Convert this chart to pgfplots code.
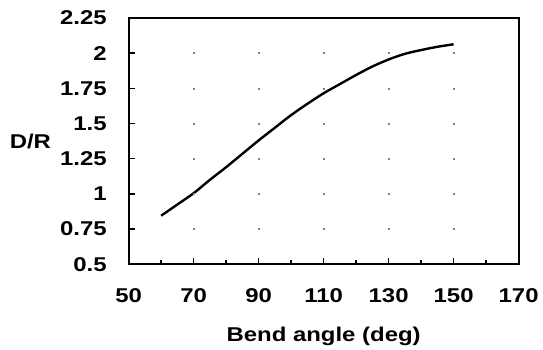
\documentclass[border=0pt]{standalone}
\usepackage{fontspec}
\setmainfont{Liberation Sans}[FakeStretch=1.2]
\usepackage{pgfplots}
\pgfplotsset{compat=1.18}
\begin{document}
\begin{tikzpicture}
\begin{axis}[
  name=ax,
  scale only axis,
  width=293.25pt, height=185.25pt,
  xmin=50, xmax=170, ymin=0.5, ymax=2.25,
  xtick={50,70,...,170},
  ytick={0.5,0.75,...,2.25},
  yticklabels={0.5,0.75,1,1.25,1.5,1.75,2,2.25},
  minor x tick num=1,
  tick align=inside,
  xtick pos=bottom, ytick pos=left,
  major tick length=5pt, minor tick length=3.3pt,
  every tick/.style={black, line width=1pt},
  axis line style={black, line width=1.6pt},
  /pgf/number format/assume math mode=true,
  tick label style={font=\fontsize{15}{18}\selectfont\bfseries},
  yticklabel style={xshift=-13pt},
  xticklabel style={yshift=-15pt},
  every axis x label/.style={at={(axis description cs:0.5,0)},anchor=base,yshift=-57.75pt,font=\fontsize{15}{18}\selectfont\bfseries},
  every axis y label/.style={at={(axis description cs:-0.252,0.5)},anchor=center,font=\fontsize{15}{18}\selectfont\bfseries},
  xlabel={Bend angle (deg)},
  ylabel={D/R},
]
% grid intersection dots
\addplot[only marks, mark=square*, mark size=0.35pt, color=gray, mark options={draw=none, fill=gray}] coordinates {
(70,0.75) (90,0.75) (110,0.75) (130,0.75) (150,0.75) (170,0.75)
(70,1.0) (90,1.0) (110,1.0) (130,1.0) (150,1.0) (170,1.0)
(70,1.25) (90,1.25) (110,1.25) (130,1.25) (150,1.25) (170,1.25)
(70,1.5) (90,1.5) (110,1.5) (130,1.5) (150,1.5) (170,1.5)
(70,1.75) (90,1.75) (110,1.75) (130,1.75) (150,1.75) (170,1.75)
(70,2.0) (90,2.0) (110,2.0) (130,2.0) (150,2.0) (170,2.0)
};
\addplot[black, line width=1.8pt, smooth, no marks] coordinates {
(60,0.845) (65,0.925) (70,1.005) (75,1.10) (80,1.19) (85,1.285) (90,1.38)
(95,1.47) (100,1.56) (105,1.64) (110,1.715) (115,1.78) (120,1.845)
(125,1.905) (130,1.955) (135,1.995) (140,2.022) (145,2.045) (150,2.063)
};
\end{axis}
\draw[black, line width=1.6pt, solid] (ax.south west) rectangle (ax.north east);
\path (ax.south west) ++(-96.75pt,-63pt) coordinate (bbA);
\path (ax.north east) ++(16.5pt,13.5pt) coordinate (bbB);
\path (bbA) rectangle (bbB);
\end{tikzpicture}
\end{document}
